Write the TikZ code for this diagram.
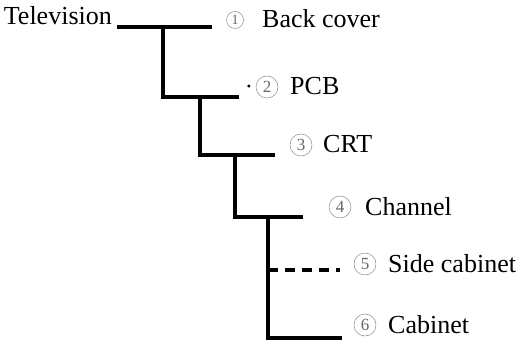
\documentclass[tikz,border=0pt]{standalone}
\usepackage{fontspec}
\setmainfont{Liberation Serif}
\begin{document}
\begin{tikzpicture}[x=1pt,y=-1pt,
  every node/.style={inner sep=0pt},
  lbl/.style={anchor=base west,font=\fontsize{26}{30}\selectfont},
  num/.style={circle,draw=black!45,line width=0.5pt,minimum size=22pt,text=black!60,font=\fontsize{17}{17}\selectfont},
  tree/.style={line width=3.3pt}]
\useasboundingbox (0,0) rectangle (518,344);
\node[lbl,anchor=base east] (tv) at (112,25) {Television};
% junction coordinates
\coordinate (h1s) at (117,27);
\coordinate (j1) at (163,27);
\coordinate (h1e) at (212,27);
\coordinate (j2) at (163,97);
\coordinate (h2e) at (239,97);
\coordinate (j3) at (200,97);
\coordinate (j4) at (200,155);
\coordinate (h3e) at (275,155);
\coordinate (j5) at (235,155);
\coordinate (j6) at (235,217);
\coordinate (h4e) at (303,217);
\coordinate (j7) at (268,217);
\coordinate (j8) at (268,270);
\coordinate (h5e) at (340,270);
\coordinate (j9) at (268,338);
\coordinate (h6e) at (342,338);
% connectors
\draw[tree] (h1s) -- (h1e);
\draw[tree] (j1) -- (j2) -- (h2e);
\draw[tree] (j3) -- (j4) -- (h3e);
\draw[tree] (j5) -- (j6) -- (h4e);
\draw[tree] (j7) -- (j9) -- (h6e);
\draw[tree,dash pattern=on 10pt off 7pt] (j8) -- (h5e);
% labels
\node[num,minimum size=17pt,font=\fontsize{14}{14}\selectfont] (c1) at (235,20) {1};
\node[lbl] (t1) at (262,28) {Back cover};
\node[font=\fontsize{12}{12}\selectfont] (dot) at (249,88) {•};
\node[num] (c2) at (267,87) {2};
\node[lbl] (t2) at (290,95) {PCB};
\node[num] (c3) at (301,145) {3};
\node[lbl] (t3) at (323,153) {CRT};
\node[num] (c4) at (340,207) {4};
\node[lbl] (t4) at (365,215) {Channel};
\node[num] (c5) at (365,264) {5};
\node[lbl] (t5) at (388,272) {Side cabinet};
\node[num] (c6) at (365,325) {6};
\node[lbl] (t6) at (388,333) {Cabinet};
\end{tikzpicture}
\end{document}
